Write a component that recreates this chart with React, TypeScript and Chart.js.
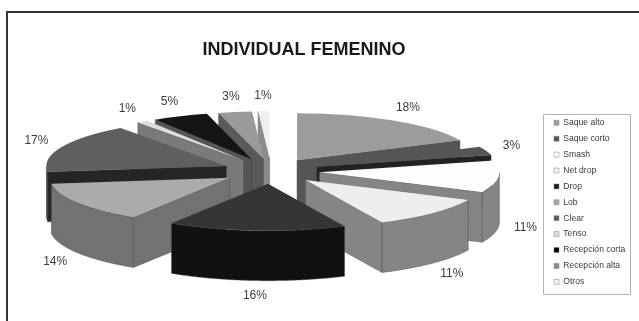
import React, { useEffect, useRef } from "react";
import { Chart, registerables } from "chart.js";

Chart.register(...registerables);

const categories = ["Saque alto", "Saque corto", "Smash", "Net drop", "Drop", "Lob", "Clear", "Tenso", "Recepción corta", "Recepción alta", "Otros"];
const shares = [18, 3, 11, 11, 16, 14, 17, 1, 5, 3, 1];
const topColors = ["#9c9c9c", "#565656", "#fdfdfd", "#eeeeee", "#353535", "#ababab", "#5f5f5f", "#dddddd", "#151515", "#9a9a9a", "#f0f0f0"];
const wallColors = ["#555555", "#222222", "#858585", "#858585", "#111111", "#727272", "#252525", "#7a7a7a", "#555555", "#5a5a5a", "#8c8c8c"];
const legendColors = ["#a0a0a0", "#555555", "#ffffff", "#f2f2f2", "#1c1c1c", "#a8a8a8", "#5c5c5c", "#dcdcdc", "#000000", "#8c8c8c", "#f4f4f4"];

// Projection of the flat pie into the tilted view
const CENTER_X = 271;
const CENTER_Y = 171;
const RADIUS_X = 180;
const RADIUS_Y = 47;
const DEPTH = 50;
const EXPLODE = 0.27;
const LABEL_REACH_X = 1.42;
const LABEL_REACH_Y = 1.6;

type ArcLike = { startAngle: number; endAngle: number; outerRadius: number; x: number; y: number; draw: (c: CanvasRenderingContext2D) => void };

const midAngle = (a: ArcLike) => (a.startAngle + a.endAngle) / 2;

const project = (angle: number, reach: number, mid: number): [number, number] => [
  CENTER_X + EXPLODE * RADIUS_X * Math.cos(mid) + reach * RADIUS_X * Math.cos(angle),
  CENTER_Y + EXPLODE * RADIUS_Y * Math.sin(mid) + reach * RADIUS_Y * Math.sin(angle),
];

const paintWall = (ctx: CanvasRenderingContext2D, outline: [number, number][], fill: string) => {
  ctx.beginPath();
  outline.forEach(([x, y], i) => (i ? ctx.lineTo(x, y) : ctx.moveTo(x, y)));
  for (let i = outline.length - 1; i >= 0; i--) ctx.lineTo(outline[i][0], outline[i][1] + DEPTH);
  ctx.closePath();
  ctx.fillStyle = fill;
  ctx.fill();
  ctx.strokeStyle = "rgba(70,70,70,0.7)";
  ctx.lineWidth = 0.6;
  ctx.stroke();
};

const paintWalls = (ctx: CanvasRenderingContext2D, arc: ArcLike, fill: string) => {
  const mid = midAngle(arc);
  const apex = project(0, 0, mid);
  const { startAngle: a, endAngle: b } = arc;
  if (Math.cos(a) < 0) paintWall(ctx, [apex, project(a, 1, mid)], fill);
  if (Math.cos(b) > 0) paintWall(ctx, [apex, project(b, 1, mid)], fill);
  const rim: [number, number][] = [];
  for (let t = a; t <= b; t += 0.01) {
    if (Math.sin(t) >= 0) rim.push(project(t, 1, mid));
  }
  if (rim.length > 1) {
    if (Math.sin(b) > 0) rim.push(project(b, 1, mid));
    paintWall(ctx, rim, fill);
  }
};

const tiltedPie = {
  id: "tiltedPie",
  afterLayout(chart: any) {
    const title = chart.titleBlock;
    title.left = 200;
    title.right = 408;
    title.top = 39;
    const legend = chart.legend;
    const w = legend.right - legend.left;
    legend.left = 546.7;
    legend.right = legend.left + w;
    legend.top = 111.2;
  },
  beforeDraw(chart: any) {
    const { ctx } = chart;
    ctx.save();
    ctx.strokeStyle = "#333333";
    ctx.lineWidth = 2;
    ctx.beginPath();
    ctx.moveTo(7, chart.height);
    ctx.lineTo(7, 12);
    ctx.lineTo(chart.width, 12);
    ctx.stroke();
    ctx.fillStyle = "#ffffff";
    ctx.strokeStyle = "#b4b4b4";
    ctx.lineWidth = 1;
    ctx.beginPath();
    ctx.rect(543.5, 114.5, 87, 180);
    ctx.fill();
    ctx.stroke();
    ctx.restore();
  },
  beforeDatasetDraw(chart: any) {
    const { ctx } = chart;
    const arcs: ArcLike[] = chart.getDatasetMeta(0).data;
    // Painter's order: the slices furthest from the viewer come first
    const order = arcs.map((_, i) => i).sort((p, q) => Math.sin(midAngle(arcs[p])) - Math.sin(midAngle(arcs[q])));
    for (const i of order) {
      const arc = arcs[i];
      paintWalls(ctx, arc, wallColors[i]);
      const mid = midAngle(arc);
      const sx = RADIUS_X / arc.outerRadius;
      const sy = RADIUS_Y / arc.outerRadius;
      const [ax, ay] = project(0, 0, mid);
      ctx.save();
      ctx.translate(ax, ay);
      ctx.scale(sx, sy);
      ctx.translate(-arc.x, -arc.y);
      arc.draw(ctx);
      ctx.restore();
    }
    return false;
  },
  afterDatasetsDraw(chart: any) {
    const { ctx } = chart;
    const arcs: ArcLike[] = chart.getDatasetMeta(0).data;
    ctx.save();
    ctx.font = '12px "Liberation Sans", Arial, sans-serif';
    ctx.fillStyle = "#3c3c3c";
    ctx.textAlign = "center";
    ctx.textBaseline = "middle";
    arcs.forEach((arc, i) => {
      const mid = midAngle(arc);
      const x = CENTER_X + LABEL_REACH_X * RADIUS_X * Math.cos(mid);
      const y = CENTER_Y + LABEL_REACH_Y * RADIUS_Y * Math.sin(mid) + (Math.sin(mid) > 0 ? DEPTH : 0);
      ctx.fillText(`${shares[i]}%`, x, y);
    });
    ctx.restore();
  },
};

export default function App() {
  const ref = useRef<HTMLCanvasElement>(null);
  useEffect(() => {
    const chart = new Chart(ref.current!, {
      type: "pie",
      data: {
        labels: categories,
        datasets: [{ data: shares, backgroundColor: topColors, borderWidth: 0 }],
      },
      options: {
        responsive: false,
        animation: false,
        plugins: {
          tooltip: { enabled: false },
          title: {
            display: true,
            text: "INDIVIDUAL FEMENINO",
            color: "#1a1a1a",
            font: { family: '"Liberation Sans", Arial, sans-serif', size: 18, weight: "bold" },
            padding: 0,
          },
          legend: {
            position: "right",
            align: "start",
            labels: {
              boxWidth: 5,
              boxHeight: 5,
              padding: 7.3,
              color: "#3a3a3a",
              font: { family: '"Liberation Sans", Arial, sans-serif', size: 8.6 },
              generateLabels: () =>
                categories.map((text, index) => ({
                  text,
                  index,
                  fillStyle: legendColors[index],
                  strokeStyle: "#808080",
                  lineWidth: 0.5,
                  fontColor: "#3a3a3a",
                  hidden: false,
                })),
            },
          },
        },
      },
      plugins: [tiltedPie],
    } as any);
    return () => chart.destroy();
  }, []);
  return (
    <div style={{ position: "fixed", left: 0, top: 0, width: 639, height: 321, background: "#fff" }}>
      <canvas ref={ref} width={639} height={321} style={{ display: "block" }} />
    </div>
  );
}
